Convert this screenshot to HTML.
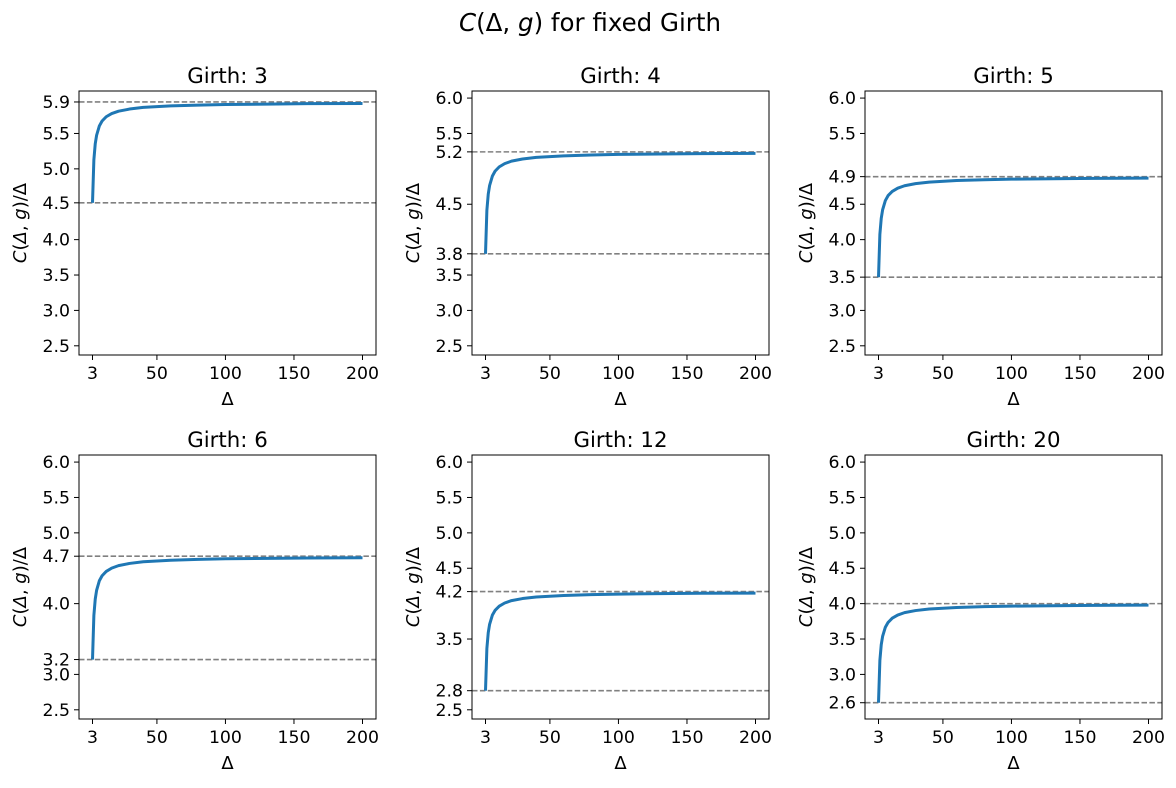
<!DOCTYPE html>
<html><head><meta charset="utf-8"><style>
html,body{margin:0;padding:0;background:#fff;}
svg text{font-family:"DejaVu Sans","Liberation Sans",sans-serif;fill:#000;}
</style></head><body>
<svg id="fig" width="1176" height="783" viewBox="0 0 1176 783" xmlns="http://www.w3.org/2000/svg">
<rect width="1176" height="783" fill="#fff"/>
<text x="590" y="31" font-size="24.5" text-anchor="middle"><tspan font-style="italic">C</tspan>(Δ, <tspan font-style="italic">g</tspan>) for fixed Girth</text>
</svg>
<script>
const girths = [3, 4, 5, 6, 12, 20];
const deltas = [3,4,5,6,8,10,13,17,22,30,40,60,80,100,130,160,200];
const lowBounds = [4.52, 3.80, 3.47, 3.21, 2.77, 2.60];
const highBounds = [5.945, 5.24, 4.89, 4.67, 4.17, 4.00];
const series0 = [4.52,5.127,5.354,5.475,5.606,5.676,5.736,5.781,5.815,5.845,5.868,5.889,5.901,5.909,5.915,5.921,5.924];
const series1 = [3.80,4.413,4.642,4.765,4.897,4.968,5.028,5.074,5.109,5.139,5.162,5.184,5.195,5.204,5.210,5.216,5.218];
const series2 = [3.47,4.075,4.301,4.421,4.552,4.622,4.681,4.727,4.761,4.791,4.813,4.835,4.846,4.855,4.860,4.866,4.869];
const series3 = [3.21,3.832,4.064,4.188,4.323,4.394,4.455,4.502,4.537,4.568,4.591,4.613,4.625,4.634,4.639,4.645,4.648];
const series4 = [2.77,3.366,3.589,3.708,3.837,3.905,3.964,4.009,4.043,4.072,4.094,4.115,4.127,4.135,4.141,4.146,4.149];
const series5 = [2.60,3.196,3.419,3.538,3.667,3.735,3.794,3.839,3.873,3.902,3.924,3.945,3.957,3.965,3.971,3.976,3.979];
const allSeries = [series0, series1, series2, series3, series4, series5];
const extraTicks0 = [2.5,3.0,3.5,4.0,5.0,5.5];
const extraTicks1 = [2.5,3.0,3.5,4.5,5.5,6.0];
const extraTicks2 = [2.5,3.0,4.0,4.5,5.5,6.0];
const extraTicks3 = [2.5,3.0,4.0,5.0,5.5,6.0];
const extraTicks4 = [2.5,3.5,4.5,5.0,5.5,6.0];
const extraTicks5 = [3.0,3.5,4.5,5.0,5.5,6.0];
const allExtraTicks = [extraTicks0, extraTicks1, extraTicks2, extraTicks3, extraTicks4, extraTicks5];
const xTicks = [3, 50, 100, 150, 200];

const NS = "http://www.w3.org/2000/svg";
const svg = document.getElementById('fig');
const XMIN = -6.85, XMAX = 209.85, YMIN = 2.37, YMAX = 6.10;
const W = 297, H = 264;
const lefts = [79, 472, 865], tops = [91, 455];

function mk(tag, attrs, parent) {
  const e = document.createElementNS(NS, tag);
  for (const k in attrs) e.setAttribute(k, attrs[k]);
  (parent || svg).appendChild(e);
  return e;
}

girths.forEach((g, i) => {
  const L = lefts[i % 3], T = tops[Math.floor(i / 3)];
  const sx = v => L + (v - XMIN) / (XMAX - XMIN) * W;
  const sy = v => T + (YMAX - v) / (YMAX - YMIN) * H;
  const grp = mk('g', {});
  
  

  [lowBounds[i], highBounds[i]].forEach((b, j) => {
    const ln = mk('line', {x1: L, x2: L + W, y1: sy(b), y2: sy(b), stroke: '#808080', 'stroke-width': 1.6, 'stroke-dasharray': '5.5,2.4'}, grp);
    
    
  });

  const d = allSeries[i].map((v, k) => (k ? 'L' : 'M') + sx(deltas[k]).toFixed(2) + ',' + sy(v).toFixed(2)).join(' ');
  const path = mk('path', {d: d, fill: 'none', stroke: '#1f77b4', 'stroke-width': 3, 'stroke-linejoin': 'round'}, grp);
  
  

  const fr = mk('rect', {x: L, y: T, width: W, height: H, fill: 'none', stroke: '#000', 'stroke-width': 1}, grp);
  
  

  const yt = allExtraTicks[i].concat([lowBounds[i], highBounds[i]]);
  yt.forEach(v => {
    const y = sy(v);
    mk('line', {x1: L - 5, x2: L, y1: y, y2: y, stroke: '#000', 'stroke-width': 1}, grp);
    const t = mk('text', {x: L - 9, y: y + 6, 'font-size': 17.3, 'text-anchor': 'end'}, grp);
    
    
    t.textContent = v.toFixed(1);
  });
  xTicks.forEach(v => {
    const x = sx(v);
    mk('line', {x1: x, x2: x, y1: T + H, y2: T + H + 5, stroke: '#000', 'stroke-width': 1}, grp);
    const t = mk('text', {x: x, y: T + H + 24, 'font-size': 17.3, 'text-anchor': 'middle'}, grp);
    
    
    t.textContent = v;
  });
  const tt = mk('text', {x: L + W / 2, y: T - 8, 'font-size': 21.3, 'text-anchor': 'middle'}, grp);
  
  
  tt.textContent = 'Girth: ' + g;
  const xl = mk('text', {x: L + W / 2, y: T + H + 50, 'font-size': 18, 'text-anchor': 'middle'}, grp);
  
  
  xl.textContent = 'Δ';
  const yl = mk('text', {x: 0, y: 0, 'font-size': 18, 'text-anchor': 'middle', transform: 'translate(' + (L - 53) + ',' + (T + H / 2) + ') rotate(-90)'}, grp);
  
  
  yl.innerHTML = '<tspan font-style="italic">C</tspan>(<tspan font-style="italic">Δ</tspan>, <tspan font-style="italic">g</tspan>)/Δ';
});
</script>
</body></html>
